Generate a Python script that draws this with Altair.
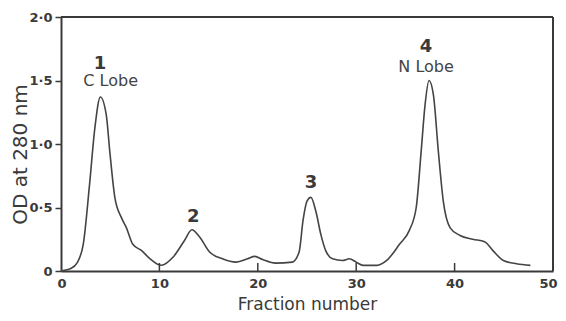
import altair as alt
import pandas as pd

# Elution profile
fraction = [0, 0.6, 1.0, 1.6, 2.26, 2.9, 3.44, 4.0, 4.6, 4.96, 5.47, 6.14, 6.65, 7.3, 8.2, 9.0,
            10.2, 11.4, 12.55, 13.3, 14.07, 15.1, 16.4, 17.8, 18.96, 19.7, 20.5, 21.8, 23.5,
            24.2, 24.6, 25.0, 25.4, 25.9, 26.4, 26.9, 27.6, 28.6, 29.3, 30.0, 30.7, 32.1, 33.1,
            34.4, 35.4, 36.1, 36.6, 37.0, 37.4, 37.85, 38.35, 38.85, 39.55, 40.55, 41.85, 43.05,
            43.9, 44.95, 46.3, 47.7]
od280 = [0, 0.01, 0.02, 0.06, 0.21, 0.68, 1.125, 1.37, 1.23, 0.94, 0.58, 0.42, 0.34, 0.21, 0.16, 0.10,
         0.045, 0.11, 0.24, 0.325, 0.27, 0.15, 0.096, 0.07, 0.096, 0.115, 0.09, 0.062, 0.07,
         0.15, 0.40, 0.55, 0.58, 0.47, 0.29, 0.16, 0.096, 0.083, 0.096, 0.07, 0.044, 0.044, 0.083,
         0.21, 0.32, 0.5, 0.94, 1.31, 1.50, 1.385, 0.94, 0.55, 0.34, 0.28, 0.25, 0.23,
         0.16, 0.083, 0.057, 0.044]

peak_labels = ["1", "2", "3", "4"]
peak_x = [3.96, 13.45, 25.4, 37.1]
peak_y = [1.633, 0.427, 0.69, 1.763]

lobe_labels = ["C Lobe", "N Lobe"]
lobe_x = [5.05, 37.1]
lobe_y = [1.496, 1.607]

x_ticks = [10, 20, 30, 40]

curve_df = pd.DataFrame({"f": fraction, "od": od280})
peak_df = pd.DataFrame({"label": peak_labels, "f": peak_x, "od": peak_y})
lobe_df = pd.DataFrame({"label": lobe_labels, "f": lobe_x, "od": lobe_y})
tick_df = pd.DataFrame({"t": x_ticks})
frame_df = pd.DataFrame({"k": [0]})

INK = "#3a3a3a"
FONT = "DejaVu Sans"
W, H = 492, 254

x_scale = alt.Scale(domain=[0, 50], nice=False, zero=False)
y_scale = alt.Scale(domain=[0, 2], nice=False)

x_axis = alt.Axis(
    values=[0, 10, 20, 30, 40, 50], ticks=False, grid=False,
    labelFont=FONT, labelFontSize=13, labelFontWeight="bold", labelColor=INK,
    labelPadding=6, labelFlush=True, labelFlushOffset=4,
    title="Fraction number", titleFont=FONT, titleFontSize=17, titleFontWeight="normal",
    titleColor=INK, titleY=38, titleBaseline="alphabetic",
    domainColor=INK, domainWidth=2,
)
y_axis = alt.Axis(
    values=[0, 0.5, 1.0, 1.5, 2.0], grid=False,
    tickSize=6, tickWidth=1.5, tickColor=INK,
    labelExpr="datum.value == 0 ? '0' : replace(format(datum.value, '.1f'), '.', '·')",
    labelFont=FONT, labelFontSize=13, labelFontWeight="bold", labelColor=INK,
    labelPadding=3, labelFlush=False,
    title="OD at 280 nm", titleFont=FONT, titleFontSize=20, titleFontWeight="normal",
    titleColor=INK, titleAngle=-90, titleX=-41, titleY=137,
    titleAlign="center", titleBaseline="middle",
    domainColor=INK, domainWidth=2,
)

curve = alt.Chart(curve_df).mark_line(
    color="#444444", strokeWidth=1.6, interpolate="monotone"
).encode(
    x=alt.X("f:Q", scale=x_scale, axis=x_axis),
    y=alt.Y("od:Q", scale=y_scale, axis=y_axis),
)

ticks = alt.Chart(tick_df).mark_rule(color=INK, strokeWidth=1.5).encode(
    x=alt.X("t:Q", scale=x_scale),
    y=alt.value(H),
    y2=alt.value(H - 8),
)

top_border = alt.Chart(frame_df).mark_rule(color=INK, strokeWidth=2).encode(
    x=alt.value(0), x2=alt.value(W), y=alt.value(0)
)
right_border = alt.Chart(frame_df).mark_rule(color=INK, strokeWidth=2).encode(
    x=alt.value(W), y=alt.value(0), y2=alt.value(H)
)

peaks = alt.Chart(peak_df).mark_text(
    font=FONT, fontSize=18, fontWeight="bold", color=INK, baseline="middle", align="center"
).encode(
    x=alt.X("f:Q", scale=x_scale),
    y=alt.Y("od:Q", scale=y_scale),
    text="label:N",
)

lobes = alt.Chart(lobe_df).mark_text(
    font=FONT, fontSize=16, color="#444444", baseline="middle", align="center"
).encode(
    x=alt.X("f:Q", scale=x_scale),
    y=alt.Y("od:Q", scale=y_scale),
    text="label:N",
)

chart = alt.layer(curve, ticks, top_border, right_border, peaks, lobes).properties(
    width=W, height=H,
    autosize=alt.AutoSizeParams(type="none"),
    padding={"left": 53, "top": 9, "right": 5, "bottom": 42},
).configure_view(
    stroke=None
).configure(background="white")

chart.save("out.html", embed_options={"renderer": "svg", "actions": False})
